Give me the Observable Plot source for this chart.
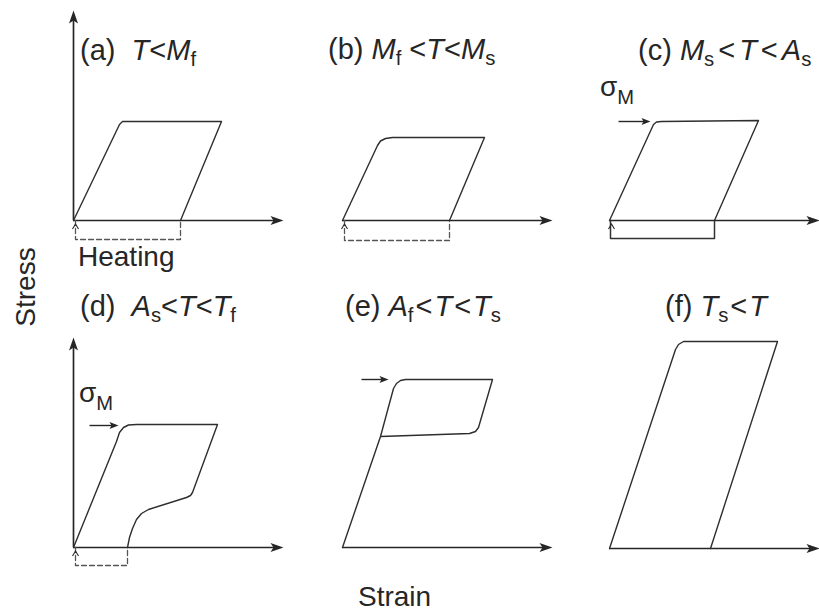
<!DOCTYPE html>
<html>
<head>
<meta charset="utf-8">
<script src="https://cdn.jsdelivr.net/npm/d3@7"></script>
<script src="https://cdn.jsdelivr.net/npm/@observablehq/plot@0.6"></script>
<style>
  body { margin: 0; background: #fff; }
  #fig { position: relative; width: 819px; height: 613px; overflow: hidden; background: #fff;
         font-family: "Liberation Sans", Arial, Helvetica, sans-serif; color: #262626; }
  .panel { position: absolute; }
  .lbl { position: absolute; white-space: nowrap; line-height: 1; font-size: 29px; }
  .lbl sub { font-size: 0.7em; vertical-align: -0.3em; line-height: 0; }
  .lt2 { margin: 0 2px; }
  .lt4 { margin: 0 4px; }
  .big { font-size: 28px; }
  .sig { font-size: 28px; }
  .sig sub { font-size: 0.72em; vertical-align: -0.4em; }
</style>
</head>
<body>
<div id="fig"></div>
<script>
// ---------------- data (strain, stress) in schematic units ----------------
const panelIds = ["a", "b", "c", "d", "e", "f"];
const panelTitles = [
  "(a)&nbsp; <i>T</i>&lt;<i>M</i><sub>f</sub>",
  "(b) <i>M</i><sub>f</sub> &lt;<i>T</i>&lt;<i>M</i><sub>s</sub>",
  "(c) <i>M</i><sub>s</sub><span class='lt4'>&lt;</span><i>T</i><span class='lt4'>&lt;</span><i>A</i><sub>s</sub>",
  "(d)&nbsp; <i>A</i><sub>s</sub>&lt;<i>T</i>&lt;<i>T</i><sub>f</sub>",
  "(e) <i>A</i><sub>f</sub><span class='lt2'>&lt;</span><i>T</i><span class='lt2'>&lt;</span><i>T</i><sub>s</sub>",
  "(f) <i>T</i><sub>s</sub><span class='lt2'>&lt;</span><i>T</i>"
];
const axisLabelY = "Stress";
const axisLabelX = "Strain";
const heatingLabel = "Heating";

const loopA = [[0,0],[4.6,9.6],[4.9,9.9],[14.8,9.9],[10.7,0]];
const residualA = [[0.2,0],[0.2,-1.9],[10.7,-1.9],[10.7,0]];

const loopB = [[0,0],[3.5,7.5],[3.8,7.95],[4.3,8.2],[5.0,8.3],[14.2,8.3],[10.7,0]];
const residualB = [[0.2,0],[0.2,-2.0],[10.7,-2.0],[10.7,0]];

const loopC = [[0,0],[4.4,9.6],[4.7,9.85],[5.2,9.9],[14.9,10.0],[10.5,0]];
const recoveredC = [[0.1,0],[0.1,-1.8],[10.5,-1.8],[10.5,0]];

const loopD = [[0,0],[4.3,10.6],[4.6,11.5],[5.0,12.0],[5.5,12.25],[6.3,12.3],[14.4,12.3],
               [11.9,5.5],[11.7,5.2],[11.3,5.0],[7.5,3.8],[6.8,3.4],[6.3,2.8],[5.9,1.9],[5.6,1.0],[5.4,0]];
const residualD = [[0.2,0],[0.2,-1.8],[5.4,-1.8],[5.4,0]];

const loopE = [[0,0],[3.8,11.1],[5.1,15.9],[5.4,16.4],[5.8,16.7],[6.3,16.8],[15.0,16.8],
               [13.6,12.0],[13.3,11.6],[12.7,11.4],[3.8,11.1]];

const loopF = [[0,0],[6.6,19.9],[6.9,20.4],[7.4,20.7],[16.8,20.7],[10.1,0]];

// sigma_M arrows: [strain start, strain end, stress]
const sigmaArrowC = [0.9, 4.1, 9.9];
const sigmaArrowD = [1.6, 4.5, 12.2];
const sigmaArrowE = [1.9, 4.6, 16.8];

const axisLength = 21;

// ---------------- drawing ----------------
const ink = "#262626";
const headRight = {draw(c){c.moveTo(0,0);c.lineTo(-13,-4.5);c.lineTo(-10,0);c.lineTo(-13,4.5);c.closePath();}};
const headUp    = {draw(c){c.moveTo(0,0);c.lineTo(-4.5,13);c.lineTo(0,10);c.lineTo(4.5,13);c.closePath();}};
const smallHead = {draw(c){c.moveTo(0,0);c.lineTo(-9,-3.5);c.lineTo(-7,0);c.lineTo(-9,3.5);c.closePath();}};
const chevron   = {draw(c){c.moveTo(-3,5);c.lineTo(0,0);c.lineTo(3,5);}};

const toPts = (arr) => arr.map(([x, y]) => ({x, y}));

const panels = [
  {id:"a", ox:73,  oy:220, yAxis:true,  loop:loopA, below:residualA, dashed:true,  origin:true,  sigma:null},
  {id:"b", ox:342, oy:220, yAxis:false, loop:loopB, below:residualB, dashed:true,  origin:true,  sigma:null},
  {id:"c", ox:609, oy:220, yAxis:false, loop:loopC, below:recoveredC, dashed:false, origin:true, sigma:sigmaArrowC},
  {id:"d", ox:73,  oy:547, yAxis:true,  loop:loopD, below:residualD, dashed:true,  origin:true,  sigma:sigmaArrowD},
  {id:"e", ox:342, oy:547, yAxis:false, loop:loopE, below:null,      dashed:false, origin:false, sigma:sigmaArrowE},
  {id:"f", ox:609, oy:548, yAxis:false, loop:loopF, below:null,      dashed:false, origin:false, sigma:null}
];

const fig = document.getElementById("fig");
const M = {top: 10, right: 10, bottom: 30, left: 10};

for (const p of panels) {
  const marks = [];
  marks.push(Plot.ruleY([0], {x1: 0, x2: axisLength - 0.6, stroke: ink, strokeWidth: 1.7}));
  marks.push(Plot.dot([{x: axisLength, y: 0}], {x: "x", y: "y", symbol: headRight, r: 5, fill: ink, stroke: "none"}));
  if (p.yAxis) {
    marks.push(Plot.ruleX([0], {y1: 0, y2: axisLength - 0.6, stroke: ink, strokeWidth: 1.7}));
    marks.push(Plot.dot([{x: 0, y: axisLength}], {x: "x", y: "y", symbol: headUp, r: 5, fill: ink, stroke: "none"}));
  }
  if (p.below) {
    marks.push(Plot.line(toPts(p.below), {x: "x", y: "y", stroke: p.dashed ? "#555" : "#333",
      strokeWidth: p.dashed ? 1.3 : 1.5, strokeDasharray: p.dashed ? "5,3" : null}));
  }
  if (p.origin) {
    marks.push(Plot.dot([{x: 0.2, y: -0.35}], {x: "x", y: "y", symbol: chevron, r: 5, fill: "none", stroke: ink, strokeWidth: 1.1}));
  }
  marks.push(Plot.line(toPts(p.loop), {x: "x", y: "y", stroke: "#2e2e2e", strokeWidth: 1.4, strokeLinejoin: "round"}));
  if (p.sigma) {
    const [s0, s1, st] = p.sigma;
    marks.push(Plot.link([{x1: s0, x2: s1 - 0.4, y: st}], {x1: "x1", x2: "x2", y1: "y", y2: "y", stroke: ink, strokeWidth: 1.4}));
    marks.push(Plot.dot([{x: s1, y: st}], {x: "x", y: "y", symbol: smallHead, r: 5, fill: ink, stroke: "none"}));
  }
  const svg = Plot.plot({
    width: 210 + M.left + M.right,
    height: 210 + M.top + M.bottom,
    marginTop: M.top, marginRight: M.right, marginBottom: M.bottom, marginLeft: M.left,
    x: {domain: [0, 21], axis: null},
    y: {domain: [0, 21], axis: null},
    style: {background: "transparent", overflow: "visible"},
    marks
  });
  svg.classList.add("panel");
  svg.style.left = (p.ox - M.left) + "px";
  svg.style.top = (p.oy - 210 - M.top) + "px";
  fig.appendChild(svg);
}

// ---------------- text ----------------
function addLabel(html, left, top, cls) {
  const d = document.createElement("div");
  d.className = "lbl" + (cls ? " " + cls : "");
  d.innerHTML = html;
  d.style.left = left + "px";
  d.style.top = top + "px";
  fig.appendChild(d);
  return d;
}
const titlePos = [[80, 36], [328, 35], [638, 36], [80, 292], [345, 292], [665, 292]];
panelTitles.forEach((t, i) => addLabel(t, titlePos[i][0], titlePos[i][1]));

addLabel(heatingLabel, 78, 243, "big");
addLabel(axisLabelX, 358, 583, "big");
const st = addLabel(axisLabelY, 26, 287, "big");
st.style.transform = "translate(-50%,-50%) rotate(-90deg)";

addLabel("σ<sub>M</sub>", 600, 73, "sig");
addLabel("σ<sub>M</sub>", 79, 379, "sig");
</script>
</body>
</html>
